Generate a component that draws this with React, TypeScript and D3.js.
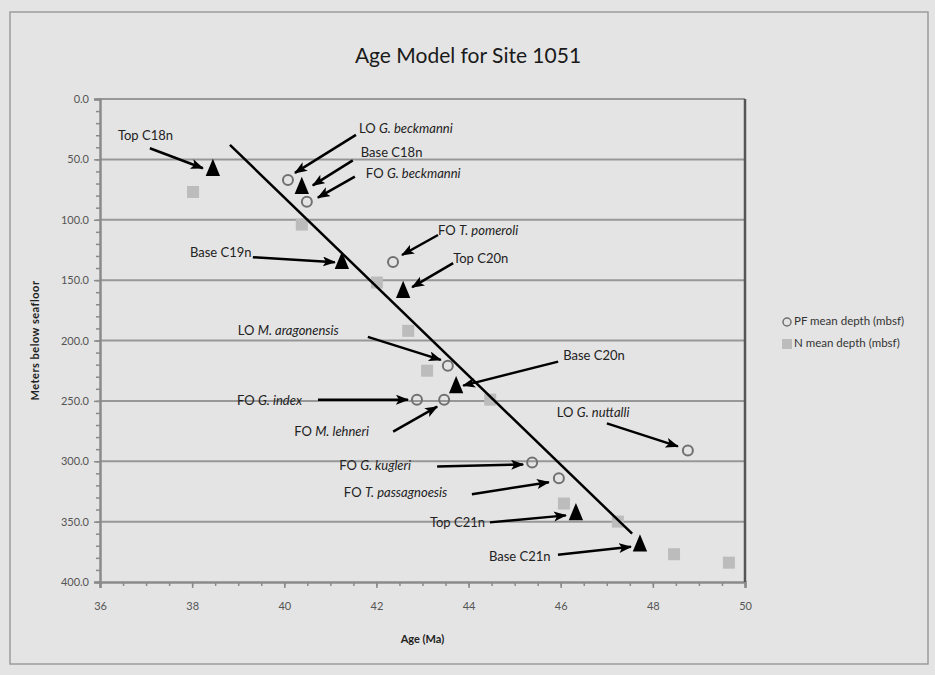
import React, { useEffect, useRef } from 'react';
import * as d3 from 'd3';

const ageTicks = [36, 38, 40, 42, 44, 46, 48, 50];
const depthTicks = [0, 50, 100, 150, 200, 250, 300, 350, 400];

// planktonic foram datums (open circles)
const pfNames = ['LO G. beckmanni', 'FO G. beckmanni', 'FO T. pomeroli', 'LO M. aragonensis', 'FO G. index', 'FO M. lehneri', 'FO G. kugleri', 'FO T. passagnoesis', 'LO G. nuttalli'];
const pfAges = [40.08, 40.49, 42.36, 43.55, 42.88, 43.47, 45.38, 45.96, 48.76];
const pfDepths = [67, 85, 135, 221, 249, 249, 301, 314, 291];

// magnetochron boundaries (triangles)
const chronNames = ['Top C18n', 'Base C18n', 'Base C19n', 'Top C20n', 'Base C20n', 'Top C21n', 'Base C21n'];
const chronAges = [38.45, 40.38, 41.25, 42.58, 43.73, 46.33, 47.72];
const chronDepths = [59, 74, 136, 160, 239, 344, 370];

// nannofossil datums (grey squares)
const nAges = [38.02, 40.38, 42.01, 42.69, 43.1, 44.47, 46.07, 47.24, 48.46, 49.65];
const nDepths = [77, 104, 152, 192, 225, 249, 335, 350, 377, 384];

// age model line
const fitAges = [38.82, 47.55];
const fitDepths = [38, 360];

const legendLabels = ['PF mean depth (mbsf)', 'N mean depth (mbsf)'];

// label placement, pixel offsets from the marked point: text, arrow tail, arrow head
const labelLayout: Record<string, number[]> = {
    'Top C18n': [-95, -34, -63, -22, -10, -2],
    'LO G. beckmanni': [71, -50, 68, -45, 7, -7],
    'Base C18n': [59, -35, 51, -28, 11, -3],
    'FO G. beckmanni': [59, -27, 48, -25, 11, -4],
    'Base C19n': [-152, -10, -89, -6, -7, -1],
    'FO T. pomeroli': [45, -30, 45, -27, 9, -7],
    'Top C20n': [50, -32, 50, -29, 9, -5],
    'LO M. aragonensis': [-210, -34, -80, -29, -7, -6],
    'Base C20n': [107, -31, 102, -26, 7, -2],
    'FO G. index': [-180, 2, -99, 0, -9, 0],
    'FO M. lehneri': [-150, 33, -51, 32, -7, 7],
    'FO G. kugleri': [-193, 5, -95, 4, -9, 2],
    'FO T. passagnoesis': [-215, 16, -87, 16, -10, 4],
    'Top C21n': [-146, 9, -86, 8, -10, 1],
    'Base C21n': [-151, 12, -82, 9, -9, 1],
    'LO G. nuttalli': [-131, -36, -81, -27, -10, -4],
};

const FONT = 'Lato, "Open Sans", sans-serif';

const App: React.FC = () => {
    const svgRef = useRef<SVGSVGElement>(null);

    useEffect(() => {
        document.body.style.margin = '0';
        if (!svgRef.current) return;
        const width = 935;
        const height = 675;
        const margin = { top: 99, right: 190, bottom: 93, left: 100 };

        const svg = d3.select(svgRef.current);
        svg.selectAll('*').remove();

        svg.append('rect').attr('width', width).attr('height', height).attr('fill', '#e4e4e4');
        svg.append('rect')
            .attr('x', 10).attr('y', 12).attr('width', 918).attr('height', 652)
            .attr('fill', '#e4e4e4').attr('stroke', '#9c9c9c').attr('stroke-width', 1.5);

        const x = d3.scaleLinear().domain([36, 50]).range([margin.left, width - margin.right]);
        const y = d3.scaleLinear().domain([0, 400]).range([margin.top, height - margin.bottom]);

        svg.append('defs').append('marker')
            .attr('id', 'arrow')
            .attr('markerUnits', 'userSpaceOnUse')
            .attr('markerWidth', 14).attr('markerHeight', 12)
            .attr('refX', 12).attr('refY', 5)
            .attr('orient', 'auto')
            .append('path')
            .attr('d', 'M0,0 L13,5 L0,10 L3,5 Z')
            .attr('fill', '#000');

        // title
        svg.append('text')
            .attr('x', 468).attr('y', 58)
            .attr('text-anchor', 'middle').attr('dominant-baseline', 'middle')
            .style('font-family', FONT).style('font-size', '21px').attr('fill', '#1a1a1a')
            .text('Age Model for Site 1051');

        // gridlines
        svg.append('g').selectAll('line')
            .data(depthTicks.filter(d => d < 400))
            .join('line')
            .attr('x1', x(36)).attr('x2', x(50))
            .attr('y1', d => y(d)).attr('y2', d => y(d))
            .attr('stroke', '#979797').attr('stroke-width', 2);

        // minor ticks
        svg.append('g')
            .attr('transform', `translate(${x(36)},0)`)
            .call(d3.axisLeft(y).tickValues(d3.range(0, 401, 10)).tickSize(4).tickFormat(() => ''))
            .call(g => g.select('.domain').remove())
            .selectAll('line').attr('stroke', '#8a8a8a').attr('stroke-width', 1.5);
        svg.append('g')
            .attr('transform', `translate(0,${y(400)})`)
            .call(d3.axisBottom(x).tickValues(d3.range(36, 50.01, 0.5)).tickSize(4).tickFormat(() => ''))
            .call(g => g.select('.domain').remove())
            .selectAll('line').attr('stroke', '#8a8a8a').attr('stroke-width', 1.5);

        // major axes
        const yAxis = svg.append('g')
            .attr('transform', `translate(${x(36)},0)`)
            .call(d3.axisLeft(y).tickValues(depthTicks).tickSize(6).tickPadding(5).tickFormat(d3.format('.1f')));
        const xAxis = svg.append('g')
            .attr('transform', `translate(0,${y(400)})`)
            .call(d3.axisBottom(x).tickValues(ageTicks).tickSize(6).tickPadding(14).tickFormat(d3.format('d')));
        [yAxis, xAxis].forEach(a => {
            a.select('.domain').attr('stroke', '#8a8a8a').attr('stroke-width', 2.5);
            a.selectAll('line').attr('stroke', '#8a8a8a').attr('stroke-width', 1.5);
            a.selectAll('text').attr('fill', '#555').style('font-family', FONT).style('font-size', '11px');
        });

        // right frame
        svg.append('line')
            .attr('x1', x(50)).attr('x2', x(50)).attr('y1', y(0)).attr('y2', y(400))
            .attr('stroke', '#555').attr('stroke-width', 2.5);

        // axis titles
        svg.append('text')
            .attr('x', (x(36) + x(50)) / 2).attr('y', 640)
            .attr('text-anchor', 'middle').attr('dominant-baseline', 'middle')
            .style('font-family', FONT).style('font-size', '11px').style('font-weight', 'bold').attr('fill', '#222')
            .text('Age (Ma)');
        svg.append('text')
            .attr('transform', `translate(36,${(y(0) + y(400)) / 2}) rotate(-90)`)
            .attr('text-anchor', 'middle').attr('dominant-baseline', 'middle')
            .style('font-family', FONT).style('font-size', '11px').style('font-weight', 'bold').attr('fill', '#222')
            .style('letter-spacing', '0.5px')
            .text('Meters below seafloor');

        // N squares
        svg.append('g').selectAll('rect')
            .data(nAges.map((a, i) => ({ age: a, depth: nDepths[i] })))
            .join('rect')
            .attr('x', d => x(d.age) - 6).attr('y', d => y(d.depth) - 6)
            .attr('width', 12).attr('height', 12)
            .attr('fill', '#bcbcbc');

        // age model line
        const line = d3.line<number>().x(d => x(d)).y((_, i) => y(fitDepths[i]));
        svg.append('path')
            .attr('d', line(fitAges))
            .attr('fill', 'none').attr('stroke', '#000').attr('stroke-width', 2.5);

        // PF circles
        svg.append('g').selectAll('circle')
            .data(pfAges.map((a, i) => ({ age: a, depth: pfDepths[i] })))
            .join('circle')
            .attr('cx', d => x(d.age)).attr('cy', d => y(d.depth))
            .attr('r', 5)
            .attr('fill', 'none').attr('stroke', '#707070').attr('stroke-width', 2);

        // chron triangles
        const tri = d3.symbol().type(d3.symbolTriangle).size(110);
        svg.append('g').selectAll('path')
            .data(chronAges.map((a, i) => ({ age: a, depth: chronDepths[i] })))
            .join('path')
            .attr('d', tri)
            .attr('transform', d => `translate(${x(d.age)},${y(d.depth)}) scale(0.9,1.25)`)
            .attr('fill', '#000');

        // annotations
        const points = [
            ...pfNames.map((n, i) => ({ name: n, px: x(pfAges[i]), py: y(pfDepths[i]) })),
            ...chronNames.map((n, i) => ({ name: n, px: x(chronAges[i]), py: y(chronDepths[i]) })),
        ];
        const ann = svg.append('g');
        points.forEach(p => {
            const l = labelLayout[p.name];
            if (!l) return;
            ann.append('line')
                .attr('x1', p.px + l[2]).attr('y1', p.py + l[3])
                .attr('x2', p.px + l[4]).attr('y2', p.py + l[5])
                .attr('stroke', '#000').attr('stroke-width', 2.5)
                .attr('marker-end', 'url(#arrow)');
            const t = ann.append('text')
                .attr('x', p.px + l[0]).attr('y', p.py + l[1])
                .attr('dominant-baseline', 'middle')
                .style('font-family', FONT).style('font-size', '13px').attr('fill', '#222');
            const isChron = p.name.startsWith('Top') || p.name.startsWith('Base');
            if (isChron) {
                t.text(p.name);
            } else {
                const k = p.name.indexOf(' ');
                t.append('tspan').text(p.name.slice(0, k + 1));
                t.append('tspan').style('font-style', 'italic').text(p.name.slice(k + 1));
            }
        });

        // legend
        const lg = svg.append('g').attr('transform', 'translate(787,322)');
        lg.append('circle').attr('cx', 0).attr('cy', 0).attr('r', 4)
            .attr('fill', 'none').attr('stroke', '#707070').attr('stroke-width', 1.5);
        lg.append('rect').attr('x', -5).attr('y', 17).attr('width', 10).attr('height', 10).attr('fill', '#bcbcbc');
        lg.selectAll('text.leg')
            .data(legendLabels)
            .join('text')
            .attr('class', 'leg')
            .attr('x', 7).attr('y', (_, i) => i * 22)
            .attr('dominant-baseline', 'middle')
            .style('font-family', FONT).style('font-size', '11.5px').attr('fill', '#333')
            .text(d => d);
    }, []);

    return <svg ref={svgRef} width={935} height={675} style={{ display: 'block' }} />;
};

export default App;
